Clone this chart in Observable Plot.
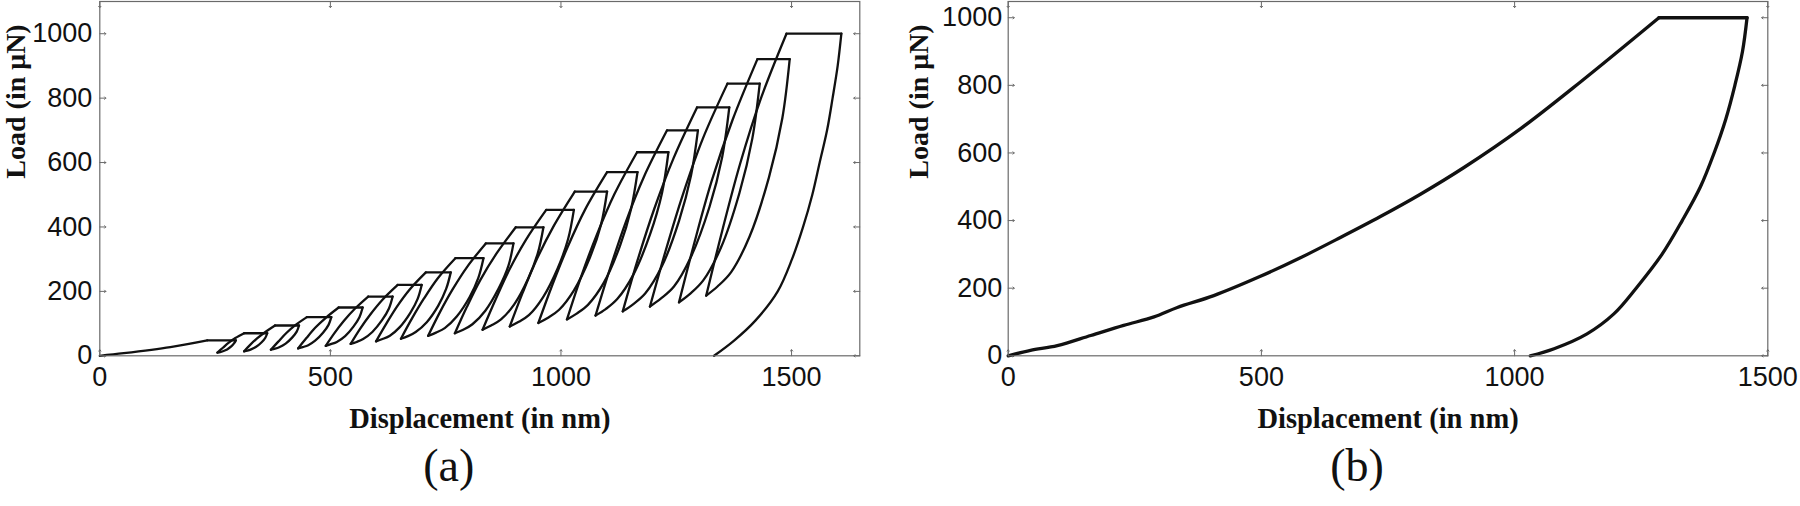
<!DOCTYPE html>
<html>
<head>
<meta charset="utf-8">
<script src="https://cdn.jsdelivr.net/npm/d3@7"></script>
<script src="https://cdn.jsdelivr.net/npm/@observablehq/plot@0.6"></script>
<style>
  html, body { margin: 0; padding: 0; background: #fff; }
  #wrap { display: flex; width: 1800px; height: 506px; }
  #wrap > div { width: 900px; height: 506px; }
  svg { display: block; }
</style>
</head>
<body>
<div id="wrap"><div id="pa"></div><div id="pb"></div></div>
<script>
// ---------- Panel (a): multi-cycle indentation (displacement nm, load µN) ----------
const aInitDisp = [0, 52, 153, 233];
const aInitLoad = [0, 8, 27, 48];
const aHoldLoad  = [48, 70, 94, 120, 150, 184, 220, 259, 303, 349, 399, 453, 510, 570, 632, 700, 771, 845, 921, 1000];
const aHoldStart = [233, 313, 380, 449, 518, 582, 646, 707, 771, 837, 902, 968, 1030, 1100, 1165, 1230, 1295, 1361, 1426, 1489];
const aHoldEnd   = [295, 363, 432, 502, 570, 635, 698, 761, 832, 897, 962, 1028, 1100, 1166, 1233, 1297, 1365, 1431, 1496, 1608];
// bottom of each unload/reload loop
const aMinDisp   = [255, 313, 371, 430, 490, 544, 599, 653, 712, 770, 830, 889, 951, 1013, 1075, 1134, 1193, 1256, 1315];
const aMinLoad   = [10, 14, 19, 23, 31, 37, 45, 53, 62, 70, 81, 91, 102, 113, 125, 138, 153, 166, 187];
// points read along each unloading branch (from bottom upward)
const aUnloadPts = [
  [[261,11.5],[267,14],[276,19.5],[285,29],[291,38.5]],
  [[320,16],[328,20],[339,28],[351,42],[359,56]],
  [[380,22],[389,26.5],[403,38],[417,56.5],[427,75]],
  [[440,27],[452,33],[467,47],[484,71.5],[496,96]],
  [[501,36],[514,43],[532,61],[550,90.5],[563,120]],
  [[557,43],[571,52],[591,74],[612,110.5],[627,147]],
  [[613,52],[629,62.5],[650.5,89],[673,132.5],[689,176]],
  [[668,61],[685,74],[709,104.5],[734,156],[751,207.5]],
  [[729,72],[748,86],[774,122],[802,182.5],[821,243]],
  [[788,81],[808,98],[836,140],[865,209.5],[886,279]],
  [[848.5,94],[870,113],[899,160.5],[929,240],[950,319.5]],
  [[908.5,105.5],[931,127],[961,181.5],[993,272],[1015.5,362.5]],
  [[972,118],[996,143],[1028.5,204],[1063,306],[1087,408]],
  [[1034,131],[1059,159],[1093,227],[1128,341.5],[1152,456]],
  [[1097,145],[1122,176],[1157,252],[1193.5,378.5],[1219,505]],
  [[1157,160.5],[1183,194],[1219,278.5],[1256,419],[1282,559.5]],
  [[1217,178],[1245,215],[1282,307.5],[1322,462],[1349.5,616.5]],
  [[1280.5,193],[1308.5,234],[1347,336],[1387,505.5],[1415,675]],
  [[1340,216],[1369,260],[1409,370.5],[1451,554],[1480,737.5]]
];
// points read along each reloading branch (from bottom upward)
const aReloadPts = [
  [[267,25],[279,40],[294,55]],
  [[326,34],[341,54],[359,74]],
  [[387,44],[404,70],[424,95]],
  [[448,55],[467,87],[490,118]],
  [[508,69],[529,108],[553,146]],
  [[564,83],[587,129],[613,174]],
  [[621,99],[644,152],[672,206]],
  [[677,116],[703,178],[733,241]],
  [[737,134],[765,206],[797,277]],
  [[796,152],[825,235],[860,317]],
  [[858,174],[888,267],[924,360]],
  [[917,196],[948,301],[985,405]],
  [[981,219],[1014,336],[1052,453]],
  [[1043,243],[1077,373],[1116,502]],
  [[1106,269],[1140,413],[1180,556]],
  [[1166,296],[1202,455],[1244,613]],
  [[1227,326],[1264,499],[1307,672]],
  [[1290,355],[1327,544],[1372,732]],
  [[1350,390],[1388,594],[1433,797]]
];
const aFinalDisp = [1608, 1600, 1589, 1577, 1561, 1545, 1525, 1501, 1470, 1422, 1376, 1332];
const aFinalLoad = [1000, 900, 800, 700, 600, 500, 400, 300, 200, 110, 48, 0];

// ---------- Panel (b): single load-hold-unload ----------
const bLoadDisp = [0, 44, 97, 163, 228, 288, 334, 406, 498, 577, 656, 735, 814, 900, 1012, 1130, 1285];
const bLoadLoad = [0, 16, 30, 60, 90, 115, 143, 178, 235, 290, 350, 412, 478, 557, 672, 810, 1000];
const bHoldDisp = [1285, 1459];
const bHoldLoad = [1000, 1000];
const bUnDisp = [1459, 1450, 1435, 1417, 1394, 1367, 1331, 1291, 1240, 1196, 1143, 1078, 1031];
const bUnLoad = [1000, 900, 800, 700, 600, 500, 400, 300, 200, 124, 65, 21, 0];

const xTicks = [0, 500, 1000, 1500];
const yTicks = [0, 200, 400, 600, 800, 1000];

// ---------- tables for the line marks ----------
function buildA() {
  const rows = [];
  let id = 0;
  const push = (pts) => { pts.forEach(([x, y]) => rows.push({id, x, y})); id++; };
  push(aInitDisp.map((x, i) => [x, aInitLoad[i]]));
  for (let k = 0; k < aHoldLoad.length; k++) {
    push([[aHoldStart[k], aHoldLoad[k]], [aHoldEnd[k], aHoldLoad[k]]]);
    if (k < aMinDisp.length) {
      const bottom = [aMinDisp[k], aMinLoad[k]];
      push([bottom, ...aUnloadPts[k], [aHoldEnd[k], aHoldLoad[k]]]);
      push([bottom, ...aReloadPts[k], [aHoldStart[k + 1], aHoldLoad[k + 1]]]);
    }
  }
  push(aFinalDisp.map((x, i) => [x, aFinalLoad[i]]));
  return rows;
}
function buildB() {
  const rows = [];
  let id = 0;
  const push = (xs, ys) => { xs.forEach((x, i) => rows.push({id, x, y: ys[i]})); id++; };
  push(bLoadDisp, bLoadLoad);
  push(bHoldDisp, bHoldLoad);
  push(bUnDisp, bUnLoad);
  return rows;
}

const tickFont = "'Liberation Sans', Arial, sans-serif";
const labelFont = "'Liberation Serif', 'Times New Roman', serif";
const frameColor = "#6a6a6a";

function panel({rows, xDomain, yDomain, mLeft, mRight, strokeW, letter, yLabelDx, letterDx, yPad}) {
  const xd = xDomain, yd = yDomain;
  return Plot.plot({
    width: 900, height: 506,
    marginLeft: mLeft, marginRight: mRight, marginTop: 1, marginBottom: 150.7,
    style: {fontFamily: tickFont, color: "#111", background: "#fff"},
    x: {domain: xd, ticks: xTicks},
    y: {domain: yd, ticks: yTicks},
    marks: [
      Plot.axisX(xTicks, {tickSize: 0, tickPadding: 11, fontSize: 27, label: null, fill: "#111", tickFormat: d => String(d)}),
      Plot.axisY(yTicks, {tickSize: 0, tickPadding: yPad, fontSize: 27, label: null, fill: "#111", tickFormat: d => String(d)}),
      // inward ticks on all four sides
      Plot.vector(xTicks, {x: d => d, y: yd[0], length: 6, rotate: 0, anchor: "start", stroke: frameColor, strokeWidth: 1}),
      Plot.vector(xTicks, {x: d => d, y: yd[1], length: 6, rotate: 180, anchor: "start", stroke: frameColor, strokeWidth: 1}),
      Plot.vector(yTicks, {x: xd[0], y: d => d, length: 6, rotate: 90, anchor: "start", stroke: frameColor, strokeWidth: 1}),
      Plot.vector(yTicks, {x: xd[1], y: d => d, length: 6, rotate: -90, anchor: "start", stroke: frameColor, strokeWidth: 1}),
      Plot.line(rows, {x: "x", y: "y", z: "id", stroke: "#111", strokeWidth: strokeW, curve: "catmull-rom", strokeLinejoin: "round", strokeLinecap: "round"}),
      Plot.frame({stroke: frameColor, strokeWidth: 1.2}),
      Plot.text(["Displacement (in nm)"], {frameAnchor: "bottom", dy: 63, fontSize: 28.5, fontWeight: "bold", fontFamily: labelFont, fill: "#111", lineAnchor: "middle"}),
      Plot.text(["Load (in μN)"], {frameAnchor: "left", dx: yLabelDx, rotate: -90, fontSize: 28, fontWeight: "bold", fontFamily: labelFont, fill: "#111", lineAnchor: "middle"}),
      Plot.text([letter], {frameAnchor: "bottom", dy: 110, dx: letterDx, fontSize: 46, fontFamily: labelFont, fill: "#111", lineAnchor: "middle"})
    ]
  });
}

document.getElementById("pa").append(panel({
  rows: buildA(), xDomain: [0, 1648], yDomain: [0, 1100], mLeft: 99.3, mRight: 40.7,
  strokeW: 2.3, letter: "(a)", yLabelDx: -83.5, letterDx: -31, yPad: 7.5
}));
document.getElementById("pb").append(panel({
  rows: buildB(), xDomain: [0, 1500], yDomain: [0, 1048], mLeft: 107.7, mRight: 32.7,
  strokeW: 3.3, letter: "(b)", yLabelDx: -89, letterDx: -31, yPad: 6
}));
</script>
</body>
</html>
